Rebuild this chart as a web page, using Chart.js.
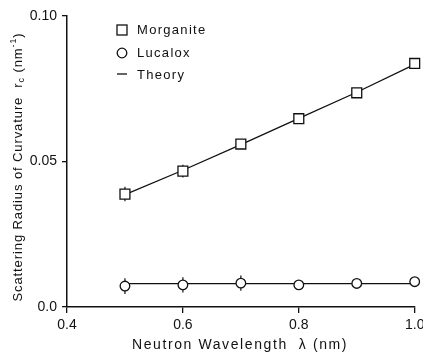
<!DOCTYPE html>
<html>
<head>
<meta charset="utf-8">
<script src="https://cdn.jsdelivr.net/npm/chart.js@4"></script>
<style>
  html, body { margin: 0; padding: 0; background: #fff; }
  #wrap { width: 423px; height: 353px; }
</style>
</head>
<body>
<div id="wrap"><canvas id="chart" width="423" height="353"></canvas></div>
<script>
// --- data ---
const wavelength = [0.5, 0.6, 0.7, 0.8, 0.9, 1.0];
const morganite = [0.0388, 0.0467, 0.0560, 0.0647, 0.0736, 0.0837];
const morganiteErr = [0.0025, 0.0022, 0.0015, 0.0015, 0.0015, 0.0015];
const lucalox = [0.0072, 0.0076, 0.0082, 0.0076, 0.0081, 0.0087];
const lucaloxErr = [0.0027, 0.0026, 0.0026, 0.0012, 0.0012, 0.0012];
const theoryMorganite = [0.0386, 0.0470, 0.0558, 0.0648, 0.0738, 0.0834];
const theoryLucalox = [0.0080, 0.0080, 0.0080, 0.0080, 0.0080, 0.0080];
const xTicks = ['0.4', '0.6', '0.8', '1.0'];
const yTicks = ['0.0', '0.05', '0.10'];
const legendLabels = ['Morganite', 'Lucalox', 'Theory'];

const FONT = '"Liberation Sans", Arial, sans-serif';

function pts(ys) {
    return wavelength.map((x, i) => ({ x: x, y: ys[i] }));
}

// small vertical error bars, drawn before the markers
const errorBars = {
    id: 'errorBars',
    beforeDatasetsDraw(chart) {
        const ctx = chart.ctx;
        const xs = chart.scales.x, ys = chart.scales.y;
        ctx.save();
        ctx.strokeStyle = '#111';
        ctx.lineWidth = 1.2;
        [[morganite, morganiteErr], [lucalox, lucaloxErr]].forEach(([vals, errs]) => {
            vals.forEach((v, i) => {
                const px = xs.getPixelForValue(wavelength[i]);
                ctx.beginPath();
                ctx.moveTo(px, ys.getPixelForValue(v - errs[i]));
                ctx.lineTo(px, ys.getPixelForValue(v + errs[i]));
                ctx.stroke();
            });
        });
        ctx.restore();
    }
};

// axis titles and the in-plot legend
const decorations = {
    id: 'decorations',
    afterDraw(chart) {
        const ctx = chart.ctx;
        ctx.save();
        ctx.fillStyle = '#111';
        ctx.textBaseline = 'middle';

        // x title
        ctx.letterSpacing = '1.6px';
        ctx.font = '14px ' + FONT;
        ctx.textAlign = 'center';
        ctx.fillText('Neutron Wavelength  \u03bb (nm)', 240, 345);

        // y title with subscript / superscript
        ctx.letterSpacing = '0.9px';
        ctx.translate(18, 167);
        ctx.rotate(-Math.PI / 2);
        const main = 'Scattering Radius of Curvature  r';
        const sub = 'c';
        const tail = ' (nm';
        const sup = '-1';
        const close = ')';
        ctx.font = '13px ' + FONT;
        const wMain = ctx.measureText(main).width;
        const wTail = ctx.measureText(tail).width;
        const wClose = ctx.measureText(close).width;
        ctx.font = '9px ' + FONT;
        const wSub = ctx.measureText(sub).width;
        const wSup = ctx.measureText(sup).width;
        let x = -(wMain + wSub + wTail + wSup + wClose) / 2;
        ctx.textAlign = 'left';
        ctx.font = '13px ' + FONT;
        ctx.fillText(main, x, 0); x += wMain;
        ctx.font = '9px ' + FONT;
        ctx.fillText(sub, x, 4); x += wSub;
        ctx.font = '13px ' + FONT;
        ctx.fillText(tail, x, 0); x += wTail;
        ctx.font = '9px ' + FONT;
        ctx.fillText(sup, x, -4); x += wSup;
        ctx.font = '13px ' + FONT;
        ctx.fillText(close, x, 0);
        ctx.restore();

        // legend
        ctx.save();
        ctx.strokeStyle = '#111';
        ctx.fillStyle = '#fff';
        ctx.lineWidth = 1.3;
        ctx.strokeRect(117, 25, 10, 10);
        ctx.beginPath();
        ctx.arc(122, 53, 4.8, 0, Math.PI * 2);
        ctx.stroke();
        ctx.beginPath();
        ctx.moveTo(117, 74);
        ctx.lineTo(127, 74);
        ctx.stroke();
        ctx.fillStyle = '#111';
        ctx.font = '13px ' + FONT;
        ctx.letterSpacing = '1.3px';
        ctx.textAlign = 'left';
        ctx.textBaseline = 'middle';
        ctx.fillText(legendLabels[0], 137, 30);
        ctx.fillText(legendLabels[1], 137, 53);
        ctx.fillText(legendLabels[2], 137, 75);
        ctx.restore();
    }
};

new Chart(document.getElementById('chart'), {
    type: 'scatter',
    data: {
        datasets: [
            {
                label: 'Morganite',
                data: pts(morganite),
                pointStyle: 'rect',
                pointRadius: 7,
                pointBorderWidth: 1.3,
                pointBorderColor: '#111',
                pointBackgroundColor: '#fff',
                clip: false,
                order: 1
            },
            {
                label: 'Lucalox',
                data: pts(lucalox),
                pointStyle: 'circle',
                pointRadius: 4.8,
                pointBorderWidth: 1.3,
                pointBorderColor: '#111',
                pointBackgroundColor: '#fff',
                clip: false,
                order: 1
            },
            {
                label: 'Theory',
                data: pts(theoryMorganite),
                showLine: true,
                borderColor: '#111',
                borderWidth: 1.3,
                pointRadius: 0,
                order: 3
            },
            {
                label: 'Theory (Lucalox)',
                data: pts(theoryLucalox),
                showLine: true,
                borderColor: '#111',
                borderWidth: 1.3,
                pointRadius: 0,
                order: 3
            }
        ]
    },
    options: {
        responsive: false,
        animation: false,
        layout: { padding: 0 },
        plugins: {
            legend: { display: false },
            tooltip: { enabled: false }
        },
        scales: {
            x: {
                type: 'linear',
                min: 0.4,
                max: 1.0,
                afterFit: s => { s.height = 46; s.paddingRight = 5; s.paddingLeft = 0; },
                ticks: {
                    stepSize: 0.2,
                    color: '#111',
                    padding: 4,
                    font: { family: FONT, size: 14 },
                    callback: (v) => xTicks[Math.round((v - 0.4) / 0.2)]
                },
                grid: { drawOnChartArea: false, drawTicks: true, tickLength: 6, color: '#111', lineWidth: 1.3 },
                border: { display: true, color: '#111', width: 1.5 }
            },
            y: {
                min: 0,
                max: 0.1,
                afterFit: s => { s.width = 67; s.paddingTop = 16; s.paddingBottom = 0; },
                ticks: {
                    stepSize: 0.05,
                    color: '#111',
                    padding: 5,
                    font: { family: FONT, size: 14 },
                    callback: (v) => yTicks[Math.round(v / 0.05)]
                },
                grid: { drawOnChartArea: false, drawTicks: true, tickLength: 5, color: '#111', lineWidth: 1.3 },
                border: { display: true, color: '#111', width: 1.5 }
            }
        }
    },
    plugins: [errorBars, decorations]
});
</script>
</body>
</html>
